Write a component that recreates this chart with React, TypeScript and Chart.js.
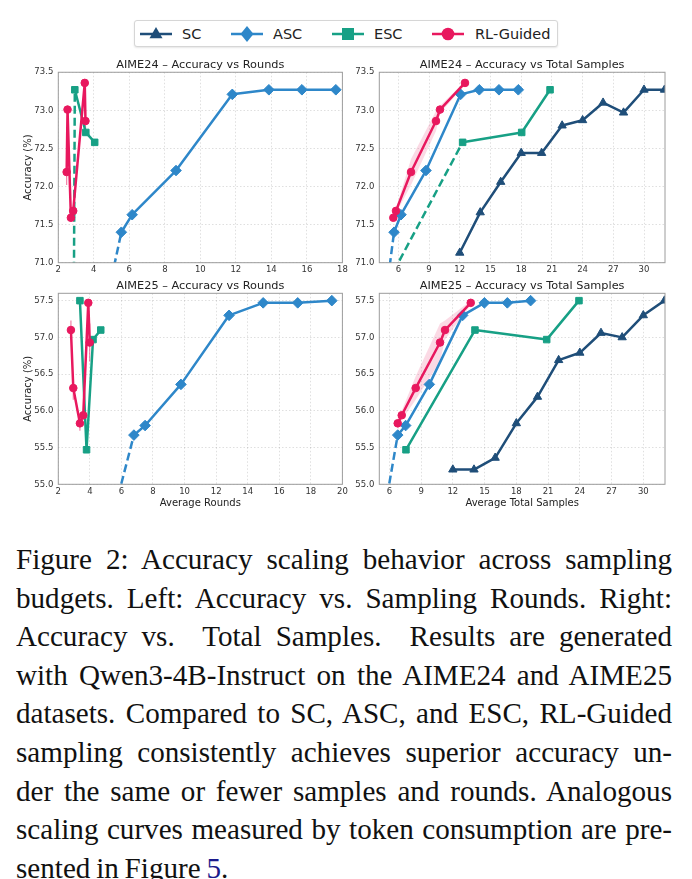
import React, { useEffect, useRef } from "react";
import { Chart, registerables } from "chart.js";

Chart.register(...registerables);

// ---------------- data ----------------
// tick labels
const roundsTicks24 = [2, 4, 6, 8, 10, 12, 14, 16, 18];
const roundsTicks25 = [2, 4, 6, 8, 10, 12, 14, 16, 18, 20];
const samplesTicks = [6, 9, 12, 15, 18, 21, 24, 27, 30];
const accTicks24 = [71.0, 71.5, 72.0, 72.5, 73.0, 73.5];
const accTicks25 = [55.0, 55.5, 56.0, 56.5, 57.0, 57.5];

const seriesNames = ["SC", "ASC", "ESC", "RL-Guided"];

// AIME24
const a24ScSamples = [12, 14, 16, 18, 20, 22, 24, 26, 28, 30, 32];
const a24ScAcc = [71.13, 71.66, 72.06, 72.44, 72.44, 72.8, 72.87, 73.1, 72.97, 73.27, 73.27];

const a24AscRounds = [5.0, 5.55, 6.16, 8.63, 11.8, 13.86, 15.72, 17.63];
const a24AscSamples = [5.0, 5.58, 6.26, 8.7, 12.09, 13.91, 15.83, 17.72];
const a24AscAcc = [70.8, 71.4, 71.63, 72.21, 73.21, 73.27, 73.27, 73.27];

const a24EscRounds = [2.88, 2.93, 3.55, 4.05];
const a24EscSamples = [5.0, 20.82, 18.05, 12.28];
const a24EscAcc = [70.75, 73.27, 72.71, 72.58];

const a24RlRounds = [2.71, 2.84, 2.47, 3.53, 2.52, 3.49];
const a24RlSamples = [5.51, 5.77, 7.24, 9.68, 10.07, 12.51];
const a24RlAcc = [71.59, 71.68, 72.19, 72.86, 73.01, 73.36];
const a24RlStd = [0.02, 0.03, 0.17, 0.13, 0.05, 0.02];

// AIME25
const a25ScSamples = [12, 14, 16, 18, 20, 22, 24, 26, 28, 30, 32];
const a25ScAcc = [55.2, 55.2, 55.36, 55.83, 56.19, 56.69, 56.79, 57.06, 57.0, 57.3, 57.5];

const a25AscRounds = [5.8, 6.79, 7.5, 9.77, 12.82, 14.98, 17.17, 19.33];
const a25AscSamples = [5.8, 6.79, 7.54, 9.78, 12.93, 14.98, 17.15, 19.35];
const a25AscAcc = [54.85, 55.67, 55.8, 56.36, 57.3, 57.47, 57.47, 57.5];

const a25EscRounds = [3.37, 3.79, 4.2, 4.69];
const a25EscSamples = [23.92, 7.57, 20.87, 14.09];
const a25EscAcc = [57.5, 55.47, 56.97, 57.1];

const a25RlRounds = [3.37, 3.58, 2.95, 3.99, 2.8, 3.9];
const a25RlSamples = [6.79, 7.17, 8.49, 10.79, 11.26, 13.69];
const a25RlAcc = [55.83, 55.94, 56.31, 56.93, 57.1, 57.47];
const a25RlStd = [0.1, 0.06, 0.16, 0.26, 0.13, 0.03];

// ---------------- style ----------------
const FONT = "'DejaVu Sans', sans-serif";
const C_SC = "#1f4e79";
const C_ASC = "#2e87c9";
const C_ESC = "#17a085";
const C_RL = "#e8185e";
const RL_BAND = "rgba(232,24,94,0.16)";
const RL_ERR = "rgba(232,24,94,0.55)";

type Pt = { x: number; y: number };

function sortedPoints(xs: number[], ys: number[]): Pt[] {
  return xs.map((x, i) => ({ x, y: ys[i] })).sort((a, b) => a.x - b.x);
}

function lineDataset(label: string, xs: number[], ys: number[], color: string, style: string, radius: number, yMin: number) {
  const data = sortedPoints(xs, ys);
  return {
    label,
    data,
    borderColor: color,
    backgroundColor: color,
    borderWidth: 2.5,
    borderJoinStyle: "round",
    pointStyle: style,
    pointRadius: (c: any) => (data[c.dataIndex] && data[c.dataIndex].y < yMin ? 0 : radius),
    pointHoverRadius: 0,
    pointBorderWidth: 1,
    pointBorderColor: color,
    pointBackgroundColor: color,
    segment: {
      borderDash: (c: any) =>
        data[c.p0DataIndex].y < yMin || data[c.p1DataIndex].y < yMin ? [8, 4] : undefined,
    },
    fill: false,
    tension: 0,
  };
}

function errorBars(xs: number[], ys: number[], sd: number[]) {
  return xs.map((x, i) => ({
    label: "err",
    data: [
      { x, y: ys[i] - sd[i] },
      { x, y: ys[i] + sd[i] },
    ],
    borderColor: RL_ERR,
    borderWidth: 1.2,
    pointRadius: 0,
    fill: false,
  }));
}

function bandDataset(xs: number[], ys: number[], sd: number[]) {
  const idx = xs.map((_, i) => i).sort((a, b) => xs[a] - xs[b]);
  const upper = idx.map((i) => ({ x: xs[i], y: ys[i] + sd[i] }));
  const lower = idx.map((i) => ({ x: xs[i], y: ys[i] - sd[i] })).reverse();
  return {
    label: "band",
    data: [...upper, ...lower],
    borderColor: "rgba(0,0,0,0)",
    borderWidth: 1,
    backgroundColor: RL_BAND,
    pointRadius: 0,
    fill: "shape",
    tension: 0,
  };
}

const framePlugin = {
  id: "frame",
  afterDatasetsDraw(chart: any) {
    const { ctx, chartArea } = chart;
    const { left, top, right, bottom } = chartArea;
    ctx.save();
    ctx.strokeStyle = "#9c9c9c";
    ctx.lineWidth = 1;
    ctx.strokeRect(left, top, right - left, bottom - top);
    ctx.restore();
  },
};

type Panel = {
  left: number;
  top: number;
  w: number;
  h: number;
  padL: number;
  padR: number;
  padT: number;
  padB: number;
  yW: number;
  xH: number;
  titlePadB: number;
  title: string;
  xTitle?: string;
  yTitle?: string;
  xMin: number;
  xMax: number;
  yMin: number;
  yMax: number;
  xTicks: number[];
  yTicks: number[];
  datasets: any[];
};

function buildConfig(p: Panel): any {
  const grid = {
    color: "rgba(0,0,0,0.16)",
    lineWidth: 0.8,
    drawTicks: false,
  };
  return {
    type: "line",
    data: { datasets: p.datasets },
    plugins: [framePlugin],
    options: {
      animation: false,
      responsive: false,
      devicePixelRatio: 1,
      events: [],
      layout: { padding: { left: p.padL, right: p.padR, top: p.padT, bottom: p.padB } },
      plugins: {
        legend: { display: false },
        tooltip: { enabled: false },
        title: {
          display: true,
          text: p.title,
          fullSize: false,
          color: "#222",
          font: { family: FONT, size: 11.3, weight: "normal" },
          padding: { top: 0, bottom: p.titlePadB },
        },
      },
      scales: {
        x: {
          type: "linear",
          min: p.xMin,
          max: p.xMax,
          afterBuildTicks: (s: any) => {
            s.ticks = p.xTicks.map((v) => ({ value: v }));
          },
          afterFit: (s: any) => {
            s.height = p.xH;
          },
          ticks: {
            autoSkip: false,
            maxRotation: 0,
            padding: 2.2,
            color: "#333",
            font: { family: FONT, size: 8.5 },
            callback: (v: any) => String(v),
          },
          grid,
          border: { display: false, dash: [1.5, 2] },
          title: p.xTitle
            ? { display: true, text: p.xTitle, color: "#222", font: { family: FONT, size: 10 }, padding: 0 }
            : { display: false },
        },
        y: {
          type: "linear",
          min: p.yMin,
          max: p.yMax,
          afterBuildTicks: (s: any) => {
            s.ticks = p.yTicks.map((v) => ({ value: v }));
          },
          afterFit: (s: any) => {
            s.width = p.yW;
          },
          ticks: {
            autoSkip: false,
            padding: 5,
            color: "#333",
            font: { family: FONT, size: 8.5 },
            callback: (v: any) => Number(v).toFixed(1),
          },
          grid,
          border: { display: false, dash: [1.5, 2] },
          title: p.yTitle
            ? { display: true, text: p.yTitle, color: "#222", font: { family: FONT, size: 10 }, padding: 0 }
            : { display: false },
        },
      },
    },
  };
}

function ChartPanel({ p }: { p: Panel }) {
  const ref = useRef<HTMLCanvasElement | null>(null);
  useEffect(() => {
    if (!ref.current) return;
    const chart = new Chart(ref.current, buildConfig(p));
    return () => chart.destroy();
  }, []);
  return (
    <canvas
      ref={ref}
      width={p.w}
      height={p.h}
      style={{ position: "absolute", left: p.left, top: p.top, width: p.w, height: p.h }}
    />
  );
}

// ---------------- panels ----------------
const Y24 = 71.0;
const Y25 = 55.0;
const R_RL = 3.8;
const R_ESC = 4.6;
const R_ASC = 5.3;
const R_SC = 4.8;

const panelTL: Panel = {
  left: 0, top: 50, w: 350, h: 232,
  padL: 22, padR: 6, padT: 8.2, padB: 0, yW: 36.3, xH: 19.3, titlePadB: 0.5,
  title: "AIME24 \u2013 Accuracy vs Rounds",
  yTitle: "Accuracy (%)",
  xMin: 2, xMax: 18, yMin: Y24, yMax: 73.5,
  xTicks: roundsTicks24, yTicks: accTicks24,
  datasets: [
    lineDataset(seriesNames[3], a24RlRounds, a24RlAcc, C_RL, "circle", R_RL, Y24),
    lineDataset(seriesNames[2], a24EscRounds, a24EscAcc, C_ESC, "rect", R_ESC, Y24),
    lineDataset(seriesNames[1], a24AscRounds, a24AscAcc, C_ASC, "rectRot", R_ASC, Y24),
    ...errorBars(a24RlRounds, a24RlAcc, a24RlStd),
  ],
};

const panelTR: Panel = {
  left: 350, top: 50, w: 342, h: 232,
  padL: 0, padR: 27, padT: 8.2, padB: 0, yW: 29.3, xH: 19.3, titlePadB: 0.5,
  title: "AIME24 \u2013 Accuracy vs Total Samples",
  xMin: 4.14, xMax: 32.05, yMin: Y24, yMax: 73.5,
  xTicks: samplesTicks, yTicks: accTicks24,
  datasets: [
    lineDataset(seriesNames[3], a24RlSamples, a24RlAcc, C_RL, "circle", R_RL, Y24),
    lineDataset(seriesNames[2], a24EscSamples, a24EscAcc, C_ESC, "rect", R_ESC, Y24),
    lineDataset(seriesNames[1], a24AscSamples, a24AscAcc, C_ASC, "rectRot", R_ASC, Y24),
    lineDataset(seriesNames[0], a24ScSamples, a24ScAcc, C_SC, "triangle", R_SC, Y24),
    bandDataset(a24RlSamples, a24RlAcc, a24RlStd),
  ],
};

const panelBL: Panel = {
  left: 0, top: 272, w: 350, h: 240,
  padL: 22, padR: 6, padT: 6.9, padB: 2.7, yW: 36.3, xH: 25, titlePadB: 0.84,
  title: "AIME25 \u2013 Accuracy vs Rounds",
  xTitle: "Average Rounds",
  yTitle: "Accuracy (%)",
  xMin: 2, xMax: 20, yMin: Y25, yMax: 57.6,
  xTicks: roundsTicks25, yTicks: accTicks25,
  datasets: [
    lineDataset(seriesNames[3], a25RlRounds, a25RlAcc, C_RL, "circle", R_RL, Y25),
    lineDataset(seriesNames[2], a25EscRounds, a25EscAcc, C_ESC, "rect", R_ESC, Y25),
    lineDataset(seriesNames[1], a25AscRounds, a25AscAcc, C_ASC, "rectRot", R_ASC, Y25),
    ...errorBars(a25RlRounds, a25RlAcc, a25RlStd),
  ],
};

const panelBR: Panel = {
  left: 350, top: 272, w: 342, h: 240,
  padL: 0, padR: 27, padT: 6.9, padB: 2.7, yW: 29.3, xH: 25, titlePadB: 0.84,
  title: "AIME25 \u2013 Accuracy vs Total Samples",
  xTitle: "Average Total Samples",
  xMin: 5.05, xMax: 32.05, yMin: Y25, yMax: 57.6,
  xTicks: samplesTicks, yTicks: accTicks25,
  datasets: [
    lineDataset(seriesNames[3], a25RlSamples, a25RlAcc, C_RL, "circle", R_RL, Y25),
    lineDataset(seriesNames[2], a25EscSamples, a25EscAcc, C_ESC, "rect", R_ESC, Y25),
    lineDataset(seriesNames[1], a25AscSamples, a25AscAcc, C_ASC, "rectRot", R_ASC, Y25),
    lineDataset(seriesNames[0], a25ScSamples, a25ScAcc, C_SC, "triangle", R_SC, Y25),
    bandDataset(a25RlSamples, a25RlAcc, a25RlStd),
  ],
};

// ---------------- legend ----------------
const legendColors = [C_SC, C_ASC, C_ESC, C_RL];
const legendMarkers = ["triangle", "diamond", "square", "circle"];
const legendLineX = [139, 230, 331, 431];
const legendTextX = [182, 273, 374, 475];

function Marker({ kind, color }: { kind: string; color: string }) {
  let shape: any = null;
  if (kind === "triangle") shape = <polygon points="17,3 23.5,14.2 10.5,14.2" fill={color} />;
  else if (kind === "diamond") shape = <polygon points="17,2 23.5,10 17,18 10.5,10" fill={color} />;
  else if (kind === "square") shape = <rect x={11} y={4} width={12} height={12} fill={color} />;
  else shape = <circle cx={17} cy={10} r={6.3} fill={color} />;
  return (
    <svg width={34} height={20} viewBox="0 0 34 20" style={{ display: "block" }}>
      <line x1={1} y1={10} x2={33} y2={10} stroke={color} strokeWidth={2.5} />
      {shape}
    </svg>
  );
}

function Legend() {
  return (
    <>
      <div
        style={{
          position: "absolute",
          left: 134,
          top: 20,
          width: 424,
          height: 27,
          boxSizing: "border-box",
          border: "1px solid #d6d6d6",
          borderRadius: 3,
          background: "#fff",
          boxShadow: "0 1px 2px rgba(0,0,0,0.10)",
        }}
      />
      {seriesNames.map((name, i) => (
        <React.Fragment key={name}>
          <div style={{ position: "absolute", left: legendLineX[i], top: 23.5 }}>
            <Marker kind={legendMarkers[i]} color={legendColors[i]} />
          </div>
          <div
            style={{
              position: "absolute",
              left: legendTextX[i],
              top: 23.5,
              height: 20,
              lineHeight: "20px",
              fontFamily: FONT,
              fontSize: 14.5,
              color: "#222",
              whiteSpace: "nowrap",
            }}
          >
            {name}
          </div>
        </React.Fragment>
      ))}
    </>
  );
}

// ---------------- caption ----------------
const captionLines = [
  "Figure 2: Accuracy scaling behavior across sampling",
  "budgets. Left: Accuracy vs. Sampling Rounds. Right:",
  "Accuracy vs.\u00a0 Total Samples.\u00a0 Results are generated",
  "with Qwen3-4B-Instruct on the AIME24 and AIME25",
  "datasets. Compared to SC, ASC, and ESC, RL-Guided",
  "sampling consistently achieves superior accuracy un-",
  "der the same or fewer samples and rounds. Analogous",
  "scaling curves measured by token consumption are pre-",
];
const captionLast = "sented in Figure ";
const captionRef = "5";
const CAP_SX = 0.97;
const CAP_W = 656;

function Caption() {
  return (
    <div
      style={{
        position: "absolute",
        left: 16,
        top: 540,
        width: CAP_W / CAP_SX,
        transform: `scaleX(${CAP_SX})`,
        transformOrigin: "left top",
        fontFamily: "'Liberation Serif', 'Times New Roman', serif",
        fontSize: 30,
        lineHeight: "38.6px",
        wordSpacing: "-1.5px",
        color: "#111",
      }}
    >
      {captionLines.map((t, i) => (
        <div key={i} style={{ textAlign: "justify", textAlignLast: "justify", whiteSpace: "nowrap" as any }}>
          {t}
        </div>
      ))}
      <div>
        {captionLast}
        <span style={{ color: "#1a1a8c" }}>{captionRef}</span>.
      </div>
    </div>
  );
}

export default function App() {
  return (
    <div
      style={{
        position: "absolute",
        left: 0,
        top: 0,
        width: 692,
        height: 879,
        overflow: "hidden",
        background: "#fff",
      }}
    >
      <Legend />
      <ChartPanel p={panelTL} />
      <ChartPanel p={panelTR} />
      <ChartPanel p={panelBL} />
      <ChartPanel p={panelBR} />
      <Caption />
    </div>
  );
}
